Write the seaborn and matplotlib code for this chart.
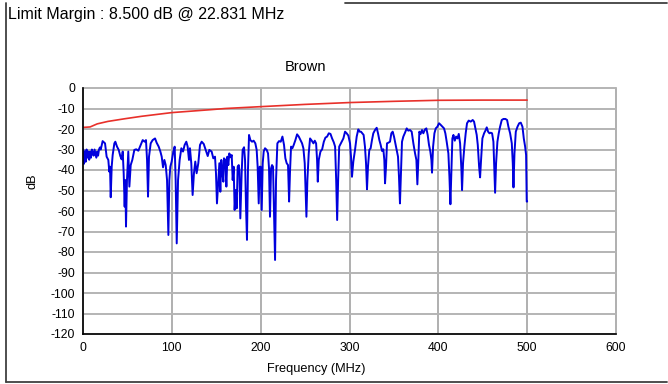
import matplotlib
matplotlib.use("Agg")
import matplotlib.pyplot as plt
import seaborn as sns
from matplotlib.lines import Line2D

# ---- data ----
blue_freq = [0.4, 1, 2, 3, 4, 5, 6, 7, 8, 9, 10, 11, 12, 13, 14, 15, 16, 17, 18, 19, 20,
             22.1, 24.8, 26.6, 28.5, 29.6, 30.4, 31.2, 32.3, 33.4, 35.3, 36.4, 38.3, 40.2, 42.0,
             43.5, 44.7, 45.8, 46.9, 47.7, 48.4, 49.5, 51.0, 52.2, 53.7, 55.5, 57.8, 60.0, 62.3,
             64.5, 67.2, 69.4, 70.9, 72.1, 73.2, 74.3, 76.2, 78.4, 81.1, 82.9, 85.2, 87.1, 88.6,
             90.1, 91.6, 93.1, 94.6, 96.1, 97.2, 98.3, 99.8, 101.7, 103.2, 104.3, 105.5, 107.0,
             108.8, 110.7, 112.6, 114.4, 116.3, 117.8, 119.3, 120.4, 121.9, 123.4, 124.9, 126.4,
             127.9, 129.8, 131.7, 133.6, 135.9, 138.1, 140.4, 142.2, 144.8, 146.7, 148.6, 149.7,
             150.8, 152.3, 153.5, 154.6, 155.7, 156.9, 158.0, 158.7, 160.2, 161.4, 162.5, 163.6,
             164.7, 166.2, 167.4, 168.5, 169.6, 170.7, 171.9, 173.0, 174.1, 175.3, 176.0, 177.1,
             178.6, 179.7, 181.3, 182.4, 183.5, 184.6, 185.7, 186.9, 188.4, 190.3, 192.1, 194.0,
             195.5, 196.6, 197.8, 198.9, 200.0, 201.2, 202.3, 203.4, 204.9, 206.8, 208.3, 209.4,
             210.5, 211.7, 212.8, 213.9, 215.0, 216.2, 217.3, 218.8, 220.7, 222.6, 224.5, 226.3,
             227.8, 229.3, 230.8, 232.0, 233.1, 234.2, 235.7, 237.2, 239.1, 241.0, 242.9, 244.8,
             246.6, 248.1, 249.6, 250.7, 251.5, 252.6, 254.1, 255.6, 257.5, 259.4, 260.9, 262.4,
             263.5, 264.3, 265.4, 267.3, 269.2, 271.1, 272.9, 274.8, 276.7, 278.6, 280.4, 282.3,
             283.8, 285.0, 286.1, 287.2, 288.4, 291.2, 293.1, 295.0, 296.8, 298.7, 300.6, 301.7,
             302.8, 304.3, 306.2, 308.1, 309.9, 311.4, 312.9, 314.4, 315.9, 317.4, 318.6, 319.7,
             320.8, 322.3, 323.8, 325.3, 326.8, 328.7, 330.6, 332.1, 333.6, 335.1, 336.6, 338.1,
             339.2, 340.0, 341.1, 342.2, 343.7, 345.6, 347.1, 348.6, 350.1, 351.6, 353.1, 354.6,
             355.7, 356.8, 358.0, 359.1, 360.6, 362.5, 364.4, 366.2, 368.1, 370.0, 371.9, 373.8,
             375.3, 376.4, 377.5, 378.6, 380.1, 381.6, 383.1, 385.0, 386.5, 388.0, 389.5, 391.0,
             392.2, 392.9, 394.1, 395.6, 397.1, 398.9, 400.8, 402.7, 404.6, 406.4, 407.9, 409.4,
             411.3, 412.5, 413.6, 414.7, 415.8, 417.0, 418.5, 420.0, 421.5, 423.0, 424.5, 426.0,
             426.7, 427.8, 429.3, 430.8, 432.3, 434.2, 436.5, 438.7, 440.2, 441.7, 443.2, 444.4,
             445.9, 447.0, 448.1, 449.6, 451.5, 453.0, 454.5, 456.0, 457.5, 459.0, 460.5, 462.0,
             463.1, 463.9, 465.0, 466.5, 468.0, 469.5, 471.4, 473.3, 475.5, 477.4, 478.9, 480.8,
             482.7, 483.8, 484.6, 485.7, 487.2, 489.1, 491.0, 492.8, 494.7, 496.2, 497.7, 498.8,
             499.5, 500.0]
blue_db = [-30, -37, -31, -36, -30, -34, -31, -35, -31, -34, -30, -32, -33, -30, -32, -34, -31, -33, -30, -29, -30,
           -25.9, -27.0, -33.5, -35.1, -40.8, -38.4, -53.3, -38.4, -32.7, -27.0, -26.2, -28.6, -30.2, -33.2,
           -34.8, -31.0, -41.6, -57.9, -44.9, -67.6, -44.9, -31.0, -48.1, -37.6, -35.1, -30.2, -29.9, -30.6,
           -28.3, -25.4, -26.2, -25.4, -35.1, -53.0, -33.5, -27.0, -25.4, -24.6, -26.7, -28.6, -31.0, -33.5,
           -38.7, -35.1, -37.6, -44.9, -71.7, -44.9, -38.4, -35.9, -31.0, -28.6, -44.9, -75.8, -44.9,
           -35.1, -29.4, -31.0, -27.8, -26.2, -28.6, -35.1, -29.4, -36.7, -52.2, -41.6, -35.9,
           -41.6, -36.7, -27.8, -26.2, -27.3, -30.2, -33.2, -30.2, -31.0, -34.3, -33.5, -41.6,
           -56.3, -44.9, -36.7, -50.6, -35.1, -41.6, -45.7, -34.3, -35.1, -48.1, -33.5, -37.6,
           -31.9, -33.8, -32.7, -44.9, -38.4, -59.5, -49.8, -58.7, -38.4, -37.6, -40.0, -63.6,
           -41.6, -30.2, -28.9, -35.1, -57.9, -74.1, -40.0, -22.9, -25.4, -26.2, -25.7, -27.0,
           -30.2, -38.4, -56.3, -38.4, -38.4, -59.5, -36.7, -31.0, -29.4, -30.2, -31.9, -39.2,
           -62.8, -39.2, -37.6, -38.4, -61.1, -83.9, -44.9, -27.0, -25.9, -26.2, -23.7, -27.8,
           -34.3, -36.7, -37.6, -55.4, -40.0, -28.6, -29.4, -27.8, -25.4, -22.6, -23.7, -25.4,
           -27.0, -29.4, -36.7, -51.4, -62.8, -44.9, -31.9, -24.6, -25.7, -27.0, -25.7, -27.0,
           -35.1, -45.7, -35.1, -31.0, -29.9, -26.2, -24.2, -23.7, -22.1, -22.4, -24.6, -26.5,
           -28.6, -44.9, -64.4, -44.9, -28.6, -26.2, -24.6, -21.3, -22.1, -23.2, -27.0, -33.5,
           -43.3, -35.9, -30.2, -23.7, -20.2, -21.3, -21.3, -22.1, -22.9, -28.6, -36.7, -49.4,
           -38.4, -30.2, -29.4, -25.4, -22.1, -20.5, -19.4, -22.1, -25.4, -27.8, -30.7, -29.9,
           -35.1, -46.5, -38.4, -27.0, -26.7, -26.2, -22.1, -21.3, -23.7, -27.0, -30.2, -33.5,
           -43.3, -56.3, -40.0, -26.2, -23.7, -21.8, -19.7, -20.8, -20.5, -21.3, -27.0, -31.9,
           -35.1, -47.0, -35.1, -21.3, -22.4, -20.5, -22.1, -20.2, -19.7, -22.9, -27.8, -31.0,
           -35.1, -41.3, -28.6, -22.1, -19.7, -18.9, -17.2, -18.0, -18.9, -19.7, -22.1, -26.2,
           -31.9, -43.3, -56.7, -40.0, -24.6, -22.9, -25.7, -23.7, -24.6, -22.4, -27.0, -40.0,
           -49.8, -36.7, -28.6, -22.1, -17.2, -15.9, -16.4, -15.6, -16.4, -19.7, -22.9, -27.8,
           -38.4, -43.6, -35.1, -24.6, -22.1, -20.8, -19.2, -21.3, -22.1, -21.8, -22.1, -26.2,
           -40.0, -51.1, -36.7, -26.2, -22.1, -18.9, -15.6, -15.1, -15.1, -15.6, -18.9, -22.1,
           -27.0, -36.7, -48.5, -31.9, -21.3, -18.9, -17.2, -16.9, -18.9, -24.6, -28.6, -32.7,
           -55.4, -55.4]

limit_freq = [0, 1, 8, 16, 28, 47, 66, 100, 143, 160, 200, 250, 300, 350, 400, 450, 500]
limit_db = [-19.2, -19.2, -19.0, -17.5, -16.3, -15.0, -13.8, -12.0, -10.6, -10.0, -9.1, -8.0,
            -7.1, -6.5, -6.0, -5.9, -5.9]

x_ticks = [0, 100, 200, 300, 400, 500, 600]
y_ticks = list(range(-120, 1, 10))

title_text = "Limit Margin : 8.500 dB @ 22.831 MHz"
pair_name = "Brown"
x_label = "Frequency (MHz)"
y_label = "dB"

# ---- style ----
sns.set_style("white")
plt.rcParams["font.family"] = ["Liberation Sans", "DejaVu Sans"]
plt.rcParams["text.color"] = "black"
plt.rcParams["xtick.color"] = "black"
plt.rcParams["ytick.color"] = "black"

W, H = 668, 384
fig = plt.figure(figsize=(W / 100, H / 100), dpi=100)
ax = fig.add_axes([83 / W, 1 - 334 / H, 533 / W, 246 / H])

sns.lineplot(x=limit_freq, y=limit_db, ax=ax, color="#e8302a", lw=1.2,
             sort=False, estimator=None)
sns.lineplot(x=blue_freq, y=blue_db, ax=ax, color="#0000dd", lw=1.4,
             sort=False, estimator=None)

ax.set_xlim(0, 600)
ax.set_ylim(-120, 0)
ax.set_xticks(x_ticks)
ax.set_yticks(y_ticks)
ax.set_xticklabels([str(v) for v in x_ticks], fontsize=8.7, color="black")
ax.set_yticklabels([str(v) for v in y_ticks], fontsize=8.7, color="black")
ax.set_xlabel("")
ax.set_ylabel("")

ax.grid(True, axis="y", color="#b4b4b4", lw=1.4)
ax.grid(True, axis="x", color="#9a9a9a", lw=1.1)
ax.set_axisbelow(True)
for gl in ax.get_xgridlines() + ax.get_ygridlines():
    gl.set_clip_on(False)

for s in ["top", "right"]:
    ax.spines[s].set_visible(False)
for s in ["left", "bottom"]:
    ax.spines[s].set_color("black")
    ax.spines[s].set_linewidth(1.2)

ax.tick_params(axis="y", direction="inout", length=9, width=1.1, color="black", pad=1)
ax.tick_params(axis="x", direction="in", length=5, width=1.1, color="black", pad=6)

fig.text(8 / W, 1 - 15 / H, title_text, fontsize=11.5, ha="left", va="center", color="black")
fig.text(306 / W, 1 - 67 / H, pair_name, fontsize=10.5, ha="center", va="center", color="black")
fig.text(316 / W, 1 - 369 / H, x_label, fontsize=9.2, ha="center", va="center", color="black")
fig.text(33 / W, 1 - 181 / H, y_label, fontsize=9.2, ha="center", va="center",
         rotation=90, color="black")

# outer frame
frame_kw = dict(transform=fig.transFigure, color="#404040", lw=1.3)
fig.add_artist(Line2D([5.5 / W, 5.5 / W], [1 - 3 / H, 1 - 382 / H], **frame_kw))
fig.add_artist(Line2D([5.5 / W, 667 / W], [1 - 382 / H, 1 - 382 / H], **frame_kw))
fig.add_artist(Line2D([345 / W, 667 / W], [1 - 3 / H, 1 - 3 / H], **frame_kw))

fig.savefig("out.png", dpi=100)
